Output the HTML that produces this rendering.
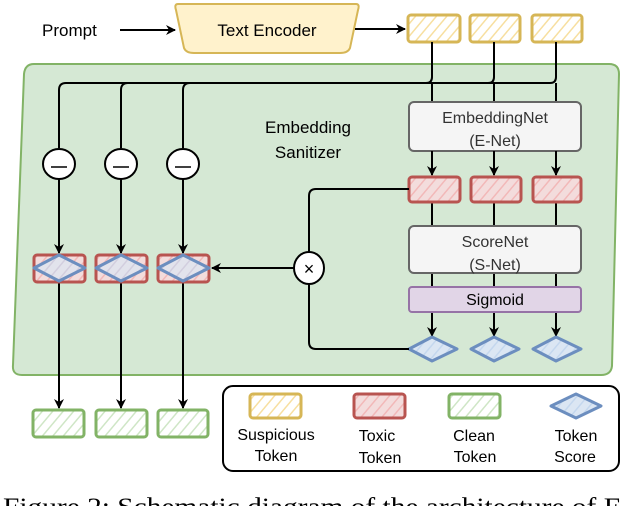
<!DOCTYPE html>
<html><head><meta charset="utf-8"><style>
html,body{margin:0;padding:0;background:#fff;width:622px;height:506px;overflow:hidden}
svg{display:block}
text{font-family:"Liberation Sans","DejaVu Sans",sans-serif;}
</style></head><body>
<svg width="622" height="506" viewBox="0 0 622 506" xmlns="http://www.w3.org/2000/svg">
<defs>
<pattern id="hy" width="8" height="8" patternUnits="userSpaceOnUse" patternTransform="rotate(40)"><rect width="8" height="8" fill="#fff"/><line x1="0" y1="0" x2="0" y2="8" stroke="#f7dfa0" stroke-width="3"/></pattern>
<pattern id="hr" width="8" height="8" patternUnits="userSpaceOnUse" patternTransform="rotate(40)"><rect width="8" height="8" fill="#f3dcdc"/><line x1="0" y1="0" x2="0" y2="8" stroke="#f2b8b8" stroke-width="3"/></pattern>
<pattern id="hg" width="8" height="8" patternUnits="userSpaceOnUse" patternTransform="rotate(40)"><rect width="8" height="8" fill="#fff"/><line x1="0" y1="0" x2="0" y2="8" stroke="#cfe6c6" stroke-width="3"/></pattern>
<pattern id="hb" width="8" height="8" patternUnits="userSpaceOnUse" patternTransform="rotate(40)"><rect width="8" height="8" fill="#dbe6f3"/><line x1="0" y1="0" x2="0" y2="8" stroke="#c4d7ee" stroke-width="3"/></pattern>
<marker id="ar" markerWidth="10" markerHeight="10" refX="9" refY="5" orient="auto" markerUnits="userSpaceOnUse"><path d="M0,0 L10,5 L0,10 L3,5 Z" fill="#000"/></marker>
</defs>

<path d="M34,64 L609,64 Q619,64 619,74 L612,366 Q611,375 601,375 L22,375 Q12,375 13,365 L24,74 Q25,64 34,64 Z" fill="#d5e8d4" stroke="#82b366" stroke-width="2"/>

<text x="42" y="36" font-size="17">Prompt</text>
<line x1="120" y1="30" x2="175" y2="30" stroke="#000" stroke-width="2" marker-end="url(#ar)"/>
<path d="M178,4 L356,4 Q360,4 358,10 L350,48 Q348,53 340,53 L194,53 Q186,53 184,48 L176,10 Q174,4 178,4 Z" fill="#fff2cc" stroke="#d6b656" stroke-width="2"/>
<text x="267" y="36" font-size="17" text-anchor="middle">Text Encoder</text>
<line x1="355" y1="29" x2="405" y2="29" stroke="#000" stroke-width="2" marker-end="url(#ar)"/>
<rect x="408" y="15" width="52" height="27" rx="3" fill="url(#hy)" stroke="#d6b656" stroke-width="3"/>
<rect x="470" y="15" width="50" height="27" rx="3" fill="url(#hy)" stroke="#d6b656" stroke-width="3"/>
<rect x="532" y="15" width="50" height="27" rx="3" fill="url(#hy)" stroke="#d6b656" stroke-width="3"/>

<g fill="none" stroke="#000" stroke-width="2">
<path d="M432,42 L432,77 Q432,83 426,83 L66,83 Q59,83 59,90 L59,148"/>
<path d="M494,42 L494,77 Q494,83 488,83 L128,83 Q121,83 121,90 L121,148"/>
<path d="M556,42 L556,77 Q556,83 550,83 L190,83 Q183,83 183,90 L183,148"/>
<line x1="432" y1="83" x2="432" y2="102"/>
<line x1="494" y1="83" x2="494" y2="102"/>
<line x1="556" y1="83" x2="556" y2="102"/>
</g>

<text x="308" y="133" font-size="17" text-anchor="middle">Embedding</text>
<text x="308" y="158" font-size="17" text-anchor="middle">Sanitizer</text>

<rect x="409" y="102" width="172" height="49" rx="5" fill="#f5f5f5" stroke="#666" stroke-width="2"/>
<text x="495" y="123" font-size="16" text-anchor="middle" fill="#333">EmbeddingNet</text>
<text x="495" y="146" font-size="16" text-anchor="middle" fill="#333">(E-Net)</text>

<g stroke="#000" stroke-width="2">
<line x1="432" y1="151" x2="432" y2="175" marker-end="url(#ar)"/>
<line x1="494" y1="151" x2="494" y2="175" marker-end="url(#ar)"/>
<line x1="556" y1="151" x2="556" y2="175" marker-end="url(#ar)"/>
<line x1="432" y1="202" x2="432" y2="226"/>
<line x1="494" y1="202" x2="494" y2="226"/>
<line x1="556" y1="202" x2="556" y2="226"/>
<line x1="432" y1="273" x2="432" y2="287"/>
<line x1="494" y1="273" x2="494" y2="287"/>
<line x1="556" y1="273" x2="556" y2="287"/>
<line x1="432" y1="312" x2="432" y2="336" marker-end="url(#ar)"/>
<line x1="494" y1="312" x2="494" y2="336" marker-end="url(#ar)"/>
<line x1="556" y1="312" x2="556" y2="336" marker-end="url(#ar)"/>
</g>

<rect x="409" y="177" width="51" height="25" rx="3" fill="url(#hr)" stroke="#b85450" stroke-width="3"/>
<rect x="471" y="177" width="50" height="25" rx="3" fill="url(#hr)" stroke="#b85450" stroke-width="3"/>
<rect x="533" y="177" width="48" height="25" rx="3" fill="url(#hr)" stroke="#b85450" stroke-width="3"/>

<rect x="409" y="226" width="172" height="47" rx="5" fill="#f5f5f5" stroke="#666" stroke-width="2"/>
<text x="495" y="247" font-size="16" text-anchor="middle" fill="#333">ScoreNet</text>
<text x="495" y="270" font-size="16" text-anchor="middle" fill="#333">(S-Net)</text>

<rect x="409" y="287" width="172" height="25" rx="3" fill="#e1d5e7" stroke="#9673a6" stroke-width="2"/>
<text x="495" y="305" font-size="16" text-anchor="middle">Sigmoid</text>

<g fill="url(#hb)" stroke="#6c8ebf" stroke-width="3" stroke-linejoin="round">
<path d="M409,349 L432,337 L457,349 L432,361 Z"/>
<path d="M471,349 L494,337 L519,349 L494,361 Z"/>
<path d="M533,349 L556,337 L581,349 L556,361 Z"/>
</g>

<g fill="none" stroke="#000" stroke-width="2">
<path d="M409,189 L316,189 Q309,189 309,196 L309,253"/>
<path d="M409,349 L316,349 Q309,349 309,342 L309,283"/>
</g>
<line x1="294" y1="268" x2="212" y2="268" stroke="#000" stroke-width="2" marker-end="url(#ar)"/>
<ellipse cx="309" cy="268" rx="15" ry="16" fill="#fff" stroke="#000" stroke-width="2"/>
<text x="309" y="275" font-size="18" text-anchor="middle">×</text>

<g stroke="#000" stroke-width="2">
<line x1="59" y1="178" x2="59" y2="253" marker-end="url(#ar)"/>
<line x1="121" y1="178" x2="121" y2="253" marker-end="url(#ar)"/>
<line x1="183" y1="178" x2="183" y2="253" marker-end="url(#ar)"/>
<line x1="59" y1="282" x2="59" y2="408" marker-end="url(#ar)"/>
<line x1="121" y1="282" x2="121" y2="408" marker-end="url(#ar)"/>
<line x1="183" y1="282" x2="183" y2="408" marker-end="url(#ar)"/>
</g>
<g fill="#fff" stroke="#000" stroke-width="2">
<ellipse cx="59" cy="164" rx="16" ry="15"/>
<ellipse cx="121" cy="164" rx="16" ry="15"/>
<ellipse cx="183" cy="164" rx="16" ry="15"/>
</g>
<g stroke="#000" stroke-width="1.5">
<line x1="51" y1="167" x2="67" y2="167"/><line x1="113" y1="167" x2="129" y2="167"/><line x1="175" y1="167" x2="191" y2="167"/>
</g>

<rect x="34" y="255" width="51" height="27" rx="3" fill="url(#hr)" stroke="#b85450" stroke-width="3"/>
<rect x="96" y="255" width="51" height="27" rx="3" fill="url(#hr)" stroke="#b85450" stroke-width="3"/>
<rect x="158" y="255" width="51" height="27" rx="3" fill="url(#hr)" stroke="#b85450" stroke-width="3"/>
<g fill="url(#hb)" fill-opacity="0.7" stroke="#6c8ebf" stroke-width="3" stroke-linejoin="round">
<path d="M34,268 L59,255 L85,268 L59,281 Z"/>
<path d="M96,268 L121,255 L147,268 L121,281 Z"/>
<path d="M158,268 L183,255 L209,268 L183,281 Z"/>
</g>

<rect x="33" y="410" width="51" height="27" rx="3" fill="url(#hg)" stroke="#82b366" stroke-width="3"/>
<rect x="96" y="410" width="51" height="27" rx="3" fill="url(#hg)" stroke="#82b366" stroke-width="3"/>
<rect x="158" y="410" width="50" height="27" rx="3" fill="url(#hg)" stroke="#82b366" stroke-width="3"/>

<rect x="223" y="386" width="396" height="85" rx="10" fill="#fff" stroke="#000" stroke-width="2"/>
<rect x="250" y="394" width="51" height="24" rx="3" fill="url(#hy)" stroke="#d6b656" stroke-width="3"/>
<rect x="354" y="394" width="51" height="24" rx="3" fill="url(#hr)" stroke="#b85450" stroke-width="3"/>
<rect x="449" y="394" width="51" height="24" rx="3" fill="url(#hg)" stroke="#82b366" stroke-width="3"/>
<path d="M551,406 L576,394 L601,406 L576,418 Z" fill="url(#hb)" stroke="#6c8ebf" stroke-width="3" stroke-linejoin="round"/>
<g font-size="16" text-anchor="middle">
<text x="276" y="440">Suspicious</text><text x="276" y="461">Token</text>
<text x="377" y="441">Toxic</text><text x="380" y="463">Token</text>
<text x="474" y="441">Clean</text><text x="475" y="462">Token</text>
<text x="576" y="441">Token</text><text x="575" y="462">Score</text>
</g>

<text x="3" y="515" font-size="25" textLength="635" lengthAdjust="spacingAndGlyphs" style="font-family:'Liberation Serif',serif">Figure 2: Schematic diagram of the architecture of ES</text>
</svg>
</body></html>
